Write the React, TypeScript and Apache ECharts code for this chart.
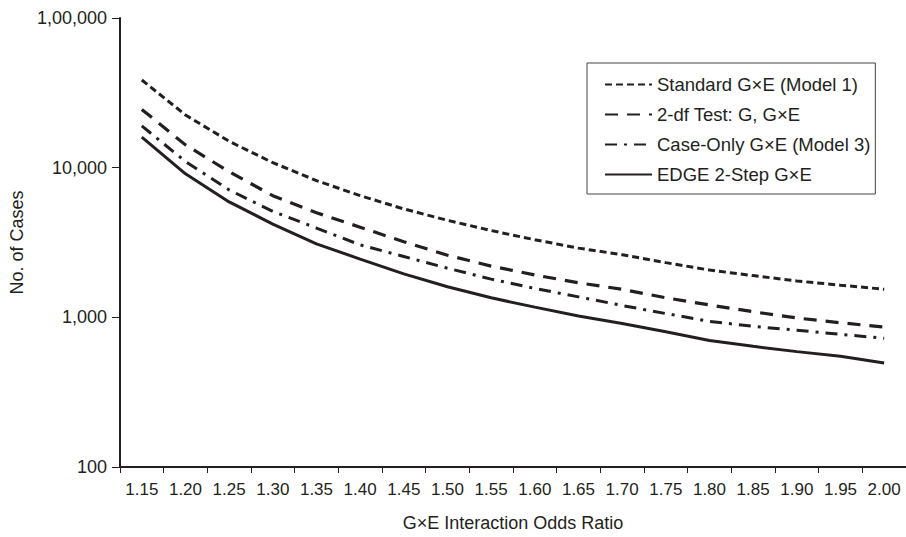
import React, { useEffect, useRef } from "react";
import * as echarts from "echarts";

const categories = ["1.15","1.20","1.25","1.30","1.35","1.40","1.45","1.50","1.55","1.60","1.65","1.70","1.75","1.80","1.85","1.90","1.95","2.00"];
const standardGxE = [38500,22500,15000,10800,8200,6500,5300,4450,3800,3300,2900,2620,2320,2070,1900,1750,1640,1540];
const twoDfTest = [24500,14200,9400,6500,5000,4000,3200,2600,2200,1920,1700,1540,1350,1210,1090,990,920,860];
const caseOnly = [19000,11000,7100,5100,3950,3050,2550,2130,1800,1560,1370,1200,1060,940,870,820,770,725];
const edge2Step = [16000,9100,5900,4200,3100,2450,1950,1600,1350,1170,1020,910,800,700,640,590,550,495];
const seriesNames = ["Standard G\u00d7E (Model 1)","2-df Test: G, G\u00d7E","Case-Only G\u00d7E (Model 3)","EDGE 2-Step G\u00d7E"];
const yTicks = [100, 1000, 10000, 100000];

const INK = "#231f20";
const FONT = "'Liberation Sans', Arial, sans-serif";

function indianFormat(v: number): string {
  const s = String(Math.round(v));
  if (s.length <= 3) return s;
  const last3 = s.slice(-3);
  let rest = s.slice(0, -3);
  const parts: string[] = [];
  while (rest.length > 2) {
    parts.unshift(rest.slice(-2));
    rest = rest.slice(0, -2);
  }
  if (rest) parts.unshift(rest);
  return parts.join(",") + "," + last3;
}

export default function App() {
  const ref = useRef<HTMLDivElement>(null);
  useEffect(() => {
    if (!ref.current) return;
    const chart = echarts.init(ref.current, undefined, { renderer: "svg" });
    const mk = (name: string, data: number[], type: any, width: number) => ({
      name,
      type: "line",
      data,
      symbol: "none",
      smooth: false,
      lineStyle: { color: INK, width, type, cap: "butt" },
      itemStyle: { color: "rgba(0,0,0,0)" },
    });
    chart.setOption({
      animation: false,
      backgroundColor: "#ffffff",
      textStyle: { fontFamily: FONT, color: INK },
      grid: { left: 117, top: 18, width: 790, height: 449, containLabel: false },
      legend: {
        left: 587,
        top: 63,
        orient: "vertical",
        data: seriesNames,
        itemWidth: 47,
        itemHeight: 14,
        itemGap: 11,
        padding: [12, 5, 10, 17],
        borderColor: "#444",
        borderWidth: 1,
        itemStyle: { color: "rgba(0,0,0,0)", borderWidth: 0, opacity: 0 },
        textStyle: { fontFamily: FONT, fontSize: 18.5, lineHeight: 19, color: INK },
      },
      xAxis: {
        type: "category",
        data: categories,
        boundaryGap: true,
        name: "G\u00d7E Interaction Odds Ratio",
        nameLocation: "middle",
        nameGap: 47,
        nameTextStyle: { fontFamily: FONT, fontSize: 18, color: INK },
        axisLine: { lineStyle: { color: INK, width: 2 } },
        axisTick: { show: true, inside: false, length: 6, alignWithLabel: false, lineStyle: { color: INK, width: 1 } },
        axisLabel: { interval: 0, margin: 14, fontFamily: FONT, fontSize: 17, color: INK },
        splitLine: { show: false },
      },
      yAxis: {
        type: "log",
        logBase: 10,
        min: yTicks[0],
        max: yTicks[yTicks.length - 1],
        name: "No. of Cases",
        nameLocation: "middle",
        nameGap: 88,
        nameRotate: 90,
        nameTextStyle: { fontFamily: FONT, fontSize: 18, color: INK },
        axisLine: { show: true, lineStyle: { color: INK, width: 2 } },
        axisTick: { show: true, inside: false, length: 8, lineStyle: { color: INK, width: 1 } },
        axisLabel: { margin: 13, fontFamily: FONT, fontSize: 18, color: INK, formatter: (v: number) => indianFormat(v) },
        splitLine: { show: false },
        minorTick: { show: false },
      },
      series: [
        mk(seriesNames[0], standardGxE, [7, 4], 3),
        mk(seriesNames[1], twoDfTest, [13, 9], 3.2),
        mk(seriesNames[2], caseOnly, [12, 7, 3, 7], 3),
        mk(seriesNames[3], edge2Step, "solid", 3),
      ],
    });
    return () => chart.dispose();
  }, []);
  return (
    <div
      ref={ref}
      style={{ position: "absolute", left: 0, top: 0, width: 906, height: 537 }}
    />
  );
}
